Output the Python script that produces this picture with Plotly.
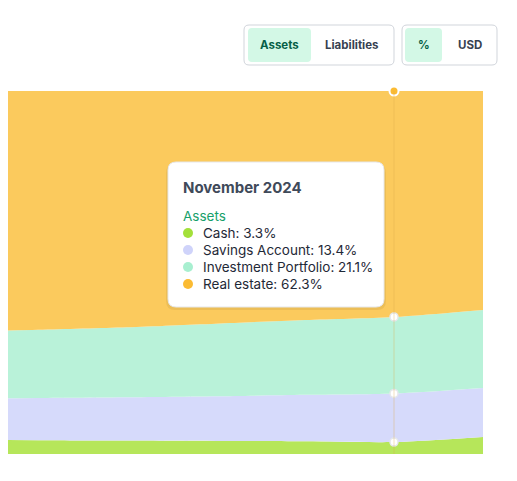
import plotly.graph_objects as go

months = ["Jun 2024", "Jul 2024", "Aug 2024", "Sep 2024", "Oct 2024", "Nov 2024", "Dec 2024"]
cash = [3.9, 3.8, 3.7, 3.6, 3.5, 3.3, 4.7]
savings = [11.3, 11.6, 11.9, 12.3, 12.8, 13.4, 13.5]
investment = [18.4, 18.8, 19.3, 20.0, 20.6, 21.1, 21.5]
real_estate = [66.4, 65.8, 65.1, 64.1, 63.1, 62.3, 60.3]
names = ["Cash", "Savings Account", "Investment Portfolio", "Real estate"]
colors = ["#b6e65a", "#d6dafb", "#b9f2d9", "#fbca5d"]
dot_colors = ["#a3e03a", "#cfd3fa", "#a8efd0", "#fbbb33"]
hover_idx = 5

W, H = 475.0, 363.0
def px(x): return (x - 8) / W
def py(y): return (454 - y) / H

xs = list(range(len(months)))
series = [cash, savings, investment, real_estate]
fig = go.Figure()
for n, v, c in zip(names, series, colors):
    fig.add_trace(go.Scatter(x=xs, y=v, name=n, stackgroup="a", groupnorm="percent", mode="lines",
                             line=dict(width=0, shape="spline", smoothing=0.8),
                             fillcolor=c, hoverinfo="skip"))

tot = sum(v[hover_idx] for v in series)
cum, s = [], 0
for v in series:
    s += v[hover_idx] / tot * 100; cum.append(s)
fig.add_trace(go.Scatter(x=[hover_idx]*3, y=cum[:3], mode="markers",
                         marker=dict(size=8, color="white", line=dict(color="#e5e7eb", width=1.5)),
                         hoverinfo="skip"))
fig.add_trace(go.Scatter(x=[hover_idx], y=[cum[3]], mode="markers",
                         marker=dict(size=9, color="#fbbb33", line=dict(color="white", width=2)),
                         hoverinfo="skip", cliponaxis=False))

def rrect(x0, y0, x1, y1, r):
    rx, ry = r / W, r / H
    X0, X1 = px(x0), px(x1); Y0, Y1 = py(y0), py(y1)
    return (f"M {X0+rx},{Y0} L {X1-rx},{Y0} Q {X1},{Y0} {X1},{Y0-ry} L {X1},{Y1+ry} "
            f"Q {X1},{Y1} {X1-rx},{Y1} L {X0+rx},{Y1} Q {X0},{Y1} {X0},{Y1+ry} "
            f"L {X0},{Y0-ry} Q {X0},{Y0} {X0+rx},{Y0} Z")

shapes = [
    dict(type="line", xref="x", yref="paper", x0=hover_idx, x1=hover_idx, y0=0, y1=1,
         line=dict(color="rgba(220,170,70,0.35)", width=1), layer="above"),
    dict(type="path", xref="paper", yref="paper", path=rrect(166, 164, 386, 310, 9),
         fillcolor="rgba(0,0,0,0.06)", line=dict(width=0), layer="above"),
    dict(type="path", xref="paper", yref="paper", path=rrect(168, 162, 384, 307, 8),
         fillcolor="white", line=dict(color="#e5e7eb", width=1), layer="above"),
    dict(type="path", xref="paper", yref="paper", path=rrect(244, 25, 394, 65, 5),
         fillcolor="white", line=dict(color="#d1d5db", width=1), layer="above"),
    dict(type="path", xref="paper", yref="paper", path=rrect(248, 28, 311, 62, 4),
         fillcolor="#d3f8e6", line=dict(width=0), layer="above"),
    dict(type="path", xref="paper", yref="paper", path=rrect(402, 25, 497, 65, 5),
         fillcolor="white", line=dict(color="#d1d5db", width=1), layer="above"),
    dict(type="path", xref="paper", yref="paper", path=rrect(405, 28, 442, 62, 4),
         fillcolor="#d3f8e6", line=dict(width=0), layer="above"),
]

ann = []
def t(x, y, text, size=12.5, color="#1f2937", anchor="left"):
    ann.append(dict(xref="paper", yref="paper", x=px(x), y=py(y), text=text, showarrow=False,
                    xanchor=anchor, yanchor="middle", font=dict(size=size, color=color)))
t(279.5, 45, "<b>Assets</b>", 11.5, "#065f46", "center")
t(352, 45, "<b>Liabilities</b>", 11.5, "#374151", "center")
t(423.5, 45, "<b>%</b>", 11.5, "#065f46", "center")
t(470, 45, "<b>USD</b>", 11.5, "#374151", "center")
t(181, 187, "<b>November 2024</b>", 15, "#3f4a5a")
t(181, 216, "Assets", 13.5, "#16a06a")
for i, (n, v) in enumerate(zip(names, series)):
    yy = 233 + i * 17
    t(201, yy, f"{n}: {v[hover_idx]:.1f}%", 13.5, "#1f2937")
    shapes.append(dict(type="circle", xref="paper", yref="paper",
                       x0=px(183), x1=px(193), y0=py(yy + 5), y1=py(yy - 5),
                       fillcolor=dot_colors[i], line=dict(width=0), layer="above"))

fig.update_layout(
    width=517, height=481, margin=dict(l=0, r=42, t=83, b=35, autoexpand=False),
    paper_bgcolor="white", plot_bgcolor="white", showlegend=False,
    font=dict(family="Inter, sans-serif"),
    xaxis=dict(range=[hover_idx + (8 - 394) / 89, hover_idx + 1], visible=False),
    yaxis=dict(range=[0, 100], visible=False),
    shapes=shapes, annotations=ann,
)
fig.write_html("out.html")
